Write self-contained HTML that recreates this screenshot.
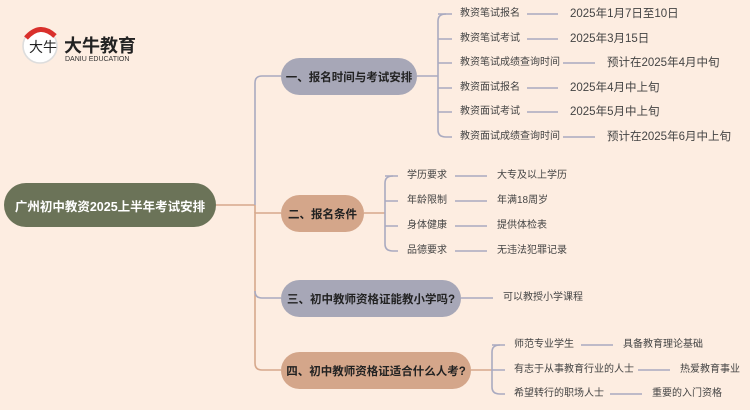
<!DOCTYPE html>
<html><head><meta charset="utf-8"><style>
body{margin:0;width:750px;height:410px;background:#fdede1;overflow:hidden;position:relative;font-family:"Liberation Sans","Noto Sans CJK SC",sans-serif}
.t{position:absolute;font-size:10px;color:#444;white-space:nowrap;line-height:14px}
.d{font-size:11.5px}
.n{position:absolute;border-radius:19px;font-weight:bold;font-size:11.5px;color:#222;display:flex;align-items:center;justify-content:center;white-space:nowrap}
</style></head><body>
<svg width="750" height="410" style="position:absolute;left:0;top:0" fill="none" stroke-width="1.6">
<g stroke="#d6a88c">
<path d="M216 205 H255"/>
<path d="M281 213 H255 V363 Q255 370 262 370 H281"/>
<path d="M255 213 V205"/>
<path d="M364 213 H385"/>
<path d="M471 370 H492"/>
</g>
<g stroke="#a9aac0">
<path d="M255 205 V83 Q255 76 262 76 H281"/>
<path d="M255 291 Q255 298 262 298 H281"/>
<path d="M417 76 H438"/>
<path d="M446 14 Q438 14 438 21 V130 Q438 137 446 137 H452"/>
<path d="M438 14 H452 M438 39 H452 M438 63 H452 M438 88 H452 M438 112 H452"/>
<path d="M527 14 H558 M527 39 H558 M563 63 H595 M527 88 H558 M527 112 H558 M563 137 H595"/>
<path d="M393 176 Q385 176 385 183 V244 Q385 251 393 251 H398"/>
<path d="M385 176 H398 M385 201 H398 M385 226 H398"/>
<path d="M455 176 H487 M455 201 H487 M455 226 H487 M455 251 H487"/>
<path d="M461 298 H493"/>
<path d="M500 345 Q492 345 492 352 V387 Q492 394 500 394 H505"/>
<path d="M492 345 H505 M492 370 H505"/>
<path d="M581 345 H613 M638 370 H670 M610 394 H642"/>
</g>
<circle cx="40" cy="46" r="17" fill="#fff" stroke="#ddd"/>
<path d="M26 38 Q40 22 55 36" stroke="#d9302c" stroke-width="5"/>
<text x="29" y="52" font-size="14" fill="#222" stroke="none" font-family="Noto Sans CJK SC">大牛</text>
</svg>
<div class="t" style="left:64px;top:36px;font-size:18px;font-weight:bold;color:#222;line-height:20px">大牛教育</div>
<div class="t" style="left:65px;top:56px;font-size:7px;color:#333;line-height:8px">DANIU EDUCATION</div>
<div class="n" style="left:4px;top:183px;width:212px;height:44px;border-radius:22px;background:#6b7358;color:#fff;font-size:12.5px">广州初中教资2025上半年考试安排</div>
<div class="n" style="left:281px;top:58px;width:136px;height:37px;background:#a7a7b7">一、报名时间与考试安排</div>
<div class="n" style="left:281px;top:195px;width:83px;height:37px;background:#d4a68a">二、报名条件</div>
<div class="n" style="left:281px;top:280px;width:180px;height:37px;background:#a7a7b7">三、初中教师资格证能教小学吗?</div>
<div class="n" style="left:281px;top:352px;width:190px;height:37px;background:#d4a68a">四、初中教师资格证适合什么人考?</div>
<div class="t" style="left:460px;top:7px">教资笔试报名</div><div class="t d" style="left:570px;top:7px">2025年1月7日至10日</div>
<div class="t" style="left:460px;top:32px">教资笔试考试</div><div class="t d" style="left:570px;top:32px">2025年3月15日</div>
<div class="t" style="left:460px;top:56px">教资笔试成绩查询时间</div><div class="t d" style="left:607px;top:56px">预计在2025年4月中旬</div>
<div class="t" style="left:460px;top:81px">教资面试报名</div><div class="t d" style="left:570px;top:81px">2025年4月中上旬</div>
<div class="t" style="left:460px;top:105px">教资面试考试</div><div class="t d" style="left:570px;top:105px">2025年5月中上旬</div>
<div class="t" style="left:460px;top:130px">教资面试成绩查询时间</div><div class="t d" style="left:607px;top:130px">预计在2025年6月中上旬</div>
<div class="t" style="left:407px;top:169px">学历要求</div><div class="t" style="left:497px;top:169px">大专及以上学历</div>
<div class="t" style="left:407px;top:194px">年龄限制</div><div class="t" style="left:497px;top:194px">年满18周岁</div>
<div class="t" style="left:407px;top:219px">身体健康</div><div class="t" style="left:497px;top:219px">提供体检表</div>
<div class="t" style="left:407px;top:244px">品德要求</div><div class="t" style="left:497px;top:244px">无违法犯罪记录</div>
<div class="t" style="left:503px;top:291px">可以教授小学课程</div>
<div class="t" style="left:514px;top:338px">师范专业学生</div><div class="t" style="left:623px;top:338px">具备教育理论基础</div>
<div class="t" style="left:514px;top:363px">有志于从事教育行业的人士</div><div class="t" style="left:680px;top:363px">热爱教育事业</div>
<div class="t" style="left:514px;top:387px">希望转行的职场人士</div><div class="t" style="left:652px;top:387px">重要的入门资格</div>
</body></html>
